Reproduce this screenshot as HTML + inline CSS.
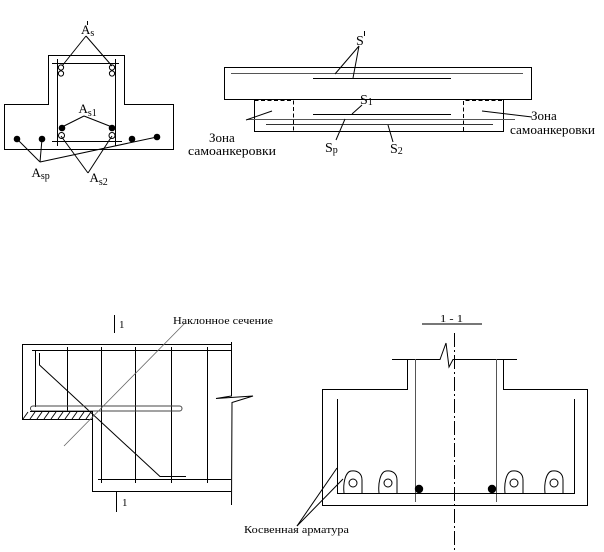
<!DOCTYPE html>
<html>
<head>
<meta charset="utf-8">
<style>
html,body{margin:0;padding:0;background:#fff;}
svg{display:block;}
.s{font-family:"Liberation Serif","Noto Serif CJK SC",serif;fill:#000;}
.m{font-family:"Liberation Serif","Noto Serif CJK SC",serif;fill:#000;}
</style>
</head>
<body>
<svg width="604" height="552" viewBox="0 0 604 552" xmlns="http://www.w3.org/2000/svg">
<rect width="604" height="552" fill="#fff"/>
<g fill="none" stroke="#000" stroke-width="1">
  <!-- ===== Top-left T-section ===== -->
  <path d="M4.5,104.5 L48.5,104.5 L48.5,55.5 L124.5,55.5 L124.5,104.5 L173.5,104.5 L173.5,149.5 L4.5,149.5 Z"/>
  <line x1="52" y1="63.5" x2="119" y2="63.5"/>
  <line x1="52" y1="141.5" x2="122" y2="141.5"/>
  <line x1="57.5" y1="59" x2="57.5" y2="146"/>
  <line x1="115.5" y1="59" x2="115.5" y2="146"/>
  <circle cx="61" cy="67.5" r="2.6"/>
  <circle cx="61" cy="73.5" r="2.6"/>
  <circle cx="112" cy="67.5" r="2.6"/>
  <circle cx="112" cy="73.5" r="2.6"/>
  <circle cx="61.5" cy="135.5" r="3"/>
  <circle cx="112" cy="135.5" r="3"/>
  <!-- leaders -->
  <line x1="86" y1="36" x2="62" y2="66"/>
  <line x1="86" y1="36" x2="112" y2="66"/>
  <line x1="84" y1="116" x2="62" y2="127"/>
  <line x1="84" y1="116" x2="112" y2="127"/>
  <line x1="40" y1="162" x2="17" y2="139"/>
  <line x1="40" y1="162" x2="42" y2="139"/>
  <line x1="40" y1="162" x2="157" y2="137"/>
  <line x1="88" y1="173" x2="61" y2="136"/>
  <line x1="88" y1="173" x2="112" y2="136"/>
  <line x1="87.5" y1="21" x2="87.5" y2="25"/>

  <!-- ===== Top-right beam ===== -->
  <rect x="224.5" y="67.5" width="307" height="32"/>
  <path d="M254.5,99.5 L254.5,131.5 L503.5,131.5 L503.5,99.5"/>
  <path d="M254.5,100.5 L293.5,100.5 L293.5,131 M463.5,131 L463.5,100.5 L503.5,100.5" stroke-dasharray="4 2.5"/>
  <line x1="231" y1="73.5" x2="523" y2="73.5" stroke="#555"/>
  <line x1="313" y1="78.5" x2="451" y2="78.5"/>
  <line x1="313" y1="114.5" x2="451" y2="114.5"/>
  <line x1="247" y1="119.5" x2="515" y2="119.5" stroke="#555"/>
  <line x1="266" y1="124.5" x2="493" y2="124.5" stroke="#333"/>
  <line x1="359" y1="46" x2="335" y2="74"/>
  <line x1="359" y1="46" x2="353" y2="78"/>
  <line x1="362" y1="105" x2="352" y2="114"/>
  <line x1="336" y1="140" x2="345" y2="119"/>
  <line x1="393" y1="142" x2="388" y2="125"/>
  <line x1="246" y1="120" x2="272" y2="111"/>
  <line x1="482" y1="111" x2="532" y2="117"/>
  <line x1="364.5" y1="31" x2="364.5" y2="36"/>

  <!-- ===== Bottom-left beam end ===== -->
  <path d="M231,344.5 L22.5,344.5 L22.5,419.5 L92.5,419.5 L92.5,491.5 L231,491.5"/>
  <path d="M231.5,342 L231.5,396 L216,398.5 L253,396 L232,402.5 L231.5,505"/>
  <line x1="32" y1="350.5" x2="231" y2="350.5"/>
  <line x1="98" y1="479.5" x2="231" y2="479.5"/>
  <line x1="35.5" y1="350" x2="35.5" y2="407"/>
  <line x1="67.5" y1="347" x2="67.5" y2="411"/>
  <line x1="101.5" y1="347" x2="101.5" y2="483"/>
  <line x1="135.5" y1="347" x2="135.5" y2="483"/>
  <line x1="171.5" y1="347" x2="171.5" y2="483"/>
  <line x1="207.5" y1="347" x2="207.5" y2="483"/>
  <polyline points="39.5,353 39.5,365 160,476.5 186,476.5"/>
  <rect x="30.5" y="406" width="151.5" height="5" rx="2.5" stroke="#444"/>
  <path d="M30,411.5 L92.5,411.5 L92.5,419"/>
  <g stroke-width="0.9">
    <line x1="23" y1="419" x2="28" y2="412"/>
    <line x1="30" y1="419" x2="35" y2="412"/>
    <line x1="37" y1="419" x2="42" y2="412"/>
    <line x1="44" y1="419" x2="49" y2="412"/>
    <line x1="51" y1="419" x2="56" y2="412"/>
    <line x1="58" y1="419" x2="63" y2="412"/>
    <line x1="65" y1="419" x2="70" y2="412"/>
    <line x1="72" y1="419" x2="77" y2="412"/>
    <line x1="79" y1="419" x2="84" y2="412"/>
    <line x1="86" y1="419" x2="91" y2="412"/>
  </g>
  <line x1="185" y1="323" x2="64" y2="446" stroke="#666" stroke-width="0.8"/>
  <line x1="114.5" y1="315" x2="114.5" y2="333"/>
  <line x1="116.5" y1="492" x2="116.5" y2="512"/>

  <!-- ===== Bottom-right section 1-1 ===== -->
  <line x1="422" y1="324" x2="482" y2="324" stroke="#777" stroke-width="2"/>
  <path d="M392,359.5 L440,359.5 L446,343 L449,367 L453,359.5 L517,359.5"/>
  <path d="M407.5,359.5 L407.5,389.5 L322.5,389.5 L322.5,505.5 L587.5,505.5 L587.5,389.5 L503.5,389.5 L503.5,359.5"/>
  <line x1="415.5" y1="359" x2="415.5" y2="502" stroke="#555"/>
  <line x1="496.5" y1="359" x2="496.5" y2="502" stroke="#555"/>
  <path d="M337.5,399 L337.5,493.5 L574.5,493.5 L574.5,399"/>
  <line x1="454.5" y1="333" x2="454.5" y2="552" stroke-dasharray="14 3 2 3"/>
  <path d="M344,493 C343,484 345,472 351,471 C358,470 362,474 362,480 L362,493"/>
  <circle cx="353" cy="483" r="4"/>
  <path d="M379,493 C378,484 380,472 386,471 C393,470 397,474 397,480 L397,493"/>
  <circle cx="388" cy="483" r="4"/>
  <path d="M505,493 C504,484 506,472 512,471 C519,470 523,474 523,480 L523,493"/>
  <circle cx="514" cy="483" r="4"/>
  <path d="M545,493 C544,484 546,472 552,471 C559,470 563,474 563,480 L563,493"/>
  <circle cx="554" cy="483" r="4"/>
  <line x1="297" y1="526" x2="337" y2="468"/>
  <line x1="297" y1="526" x2="343" y2="479"/>
</g>

<!-- filled dots -->
<g fill="#000">
  <circle cx="62" cy="128" r="3.3"/>
  <circle cx="112" cy="128" r="3.3"/>
  <circle cx="17" cy="139" r="3.3"/>
  <circle cx="42" cy="139" r="3.3"/>
  <circle cx="132" cy="139" r="3.3"/>
  <circle cx="157" cy="137" r="3.3"/>
  <circle cx="419" cy="489" r="4.2"/>
  <circle cx="492" cy="489" r="4.2"/>
</g>

<!-- ===== Text ===== -->
<text class="s" x="81" y="34" font-size="13">A<tspan font-size="10" dy="2">s</tspan></text>
<text class="s" x="78.5" y="113" font-size="13">A<tspan font-size="10" dy="3">s1</tspan></text>
<text class="s" x="31.5" y="177" font-size="13">A<tspan font-size="10" dy="2">sp</tspan></text>
<text class="s" x="89.5" y="182" font-size="13">A<tspan font-size="10" dy="3">s2</tspan></text>

<text class="s" x="356" y="45" font-size="14">S</text>
<text class="s" x="360" y="104" font-size="14">S<tspan font-size="10" dy="1">1</tspan></text>
<text class="s" x="325" y="152" font-size="14">S<tspan font-size="10" dy="1">p</tspan></text>
<text class="s" x="390" y="153" font-size="14">S<tspan font-size="10" dy="1">2</tspan></text>

<text class="s" x="209" y="142" font-size="13">Зона</text>
<text class="s" x="188" y="155" font-size="13" textLength="88" lengthAdjust="spacingAndGlyphs">самоанкеровки</text>
<text class="s" x="531" y="120" font-size="13">Зона</text>
<text class="s" x="510" y="134" font-size="13" textLength="85" lengthAdjust="spacingAndGlyphs">самоанкеровки</text>

<text class="m" x="173" y="324" font-size="11" textLength="100" lengthAdjust="spacingAndGlyphs">Наклонное сечение</text>
<text class="s" x="119" y="328" font-size="11">1</text>
<text class="s" x="122" y="506" font-size="11">1</text>
<text class="m" x="440" y="322" font-size="11" textLength="23" lengthAdjust="spacingAndGlyphs">1 - 1</text>
<text class="m" x="244" y="533" font-size="11" textLength="105" lengthAdjust="spacingAndGlyphs">Косвенная арматура</text>
</svg>
</body>
</html>
